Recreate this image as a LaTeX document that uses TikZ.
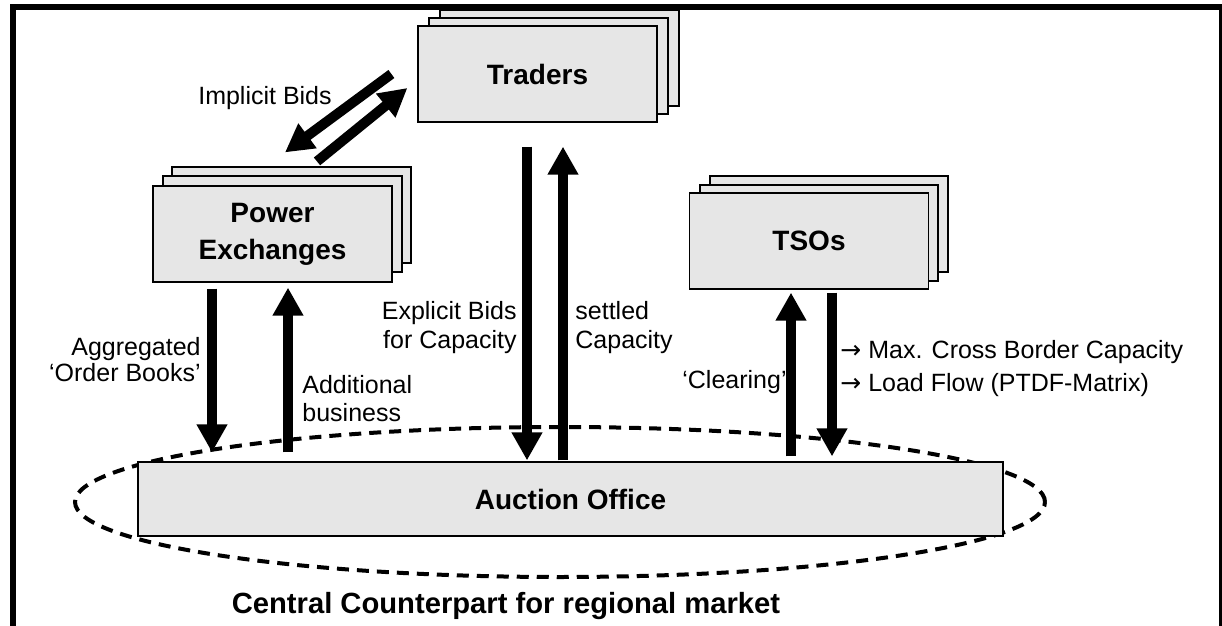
\documentclass[tikz,border=0pt]{standalone}
\usepackage{fontspec}
\setmainfont{Liberation Sans}
\newfontfamily\symfont{DejaVu Sans}
\usetikzlibrary{arrows.meta,calc}
\definecolor{boxgray}{HTML}{E6E6E6}
\newcommand{\rarr}{{\symfont →}}
\begin{document}
\begin{tikzpicture}[x=0.5pt,y=-0.5pt,
  card/.style={draw=black,line width=0.6pt,fill=boxgray},
  front/.style={card,minimum width=119.5pt,minimum height=48pt,inner sep=0pt,
    font=\fontsize{14}{18.5}\selectfont\bfseries,align=center},
  blockarrow/.style={line width=5pt,-{Triangle[length=14pt,width=14.5pt]}},
  lbl/.style={font=\fontsize{12.5}{14}\selectfont,inner sep=0pt},
  ring/.style={line width=2pt,dash pattern=on 6pt off 4pt}]
\useasboundingbox (0,0) rectangle (1222,626);

% outer frame (open at the bottom)
\draw[line width=3pt] (13,660) -- (13,7) -- (1222,7) -- (1222,660);

% Traders (stack of three cards)
\draw[card] (440,10) rectangle (679,106);
\draw[card] (429,18) rectangle (668,114);
\node[front] (traders) at (537.5,74) {Traders};

% Power exchanges
\draw[card] (172,167) rectangle (411,263);
\draw[card] (163,176) rectangle (402,272);
\node[front] (pe) at (272.5,234) {Power\\Exchanges};

% TSOs
\draw[card] (710,176) rectangle (948,272);
\draw[card] (700,185) rectangle (938,281);
\node[front] (tso) at (809,241) {TSOs};

% regional market boundary and auction office
\draw[ring] (560,502) ellipse [x radius=242.5pt,y radius=37.5pt];
\node[card,minimum width=432.5pt,minimum height=37pt,inner sep=0pt,
  font=\fontsize{14}{16}\selectfont\bfseries] (ao) at (570.5,499) {Auction Office};

% flows between the parties
\draw[blockarrow] ($(traders.west)+(-26,0)$) -- ($(pe.north)+(12.5,-33)$);
\draw[blockarrow] ($(pe.north)+(44.5,-24)$) -- ($(traders.west)+(-10,14)$);
\draw[blockarrow] ($(pe.south)+(-60.5,6)$) -- ($(ao.north)+(-358.5,-9)$);
\draw[blockarrow] ($(ao.north)+(-282.5,-9)$) -- ($(pe.south)+(15.5,5)$);
\draw[blockarrow] ($(traders.south)+(-10.5,24)$) -- ($(ao.north)+(-43.5,-1)$);
\draw[blockarrow] ($(ao.north)+(-7.5,-1)$) -- ($(traders.south)+(25.5,24)$);
\draw[blockarrow] ($(ao.north)+(220.5,-5)$) -- ($(tso.south)+(-18,3)$);
\draw[blockarrow] ($(tso.south)+(23,3)$) -- ($(ao.north)+(261.5,-5)$);

% flow labels
\node[lbl] (implicit) at (265,98) {Implicit Bids};
\node[lbl,anchor=east,align=right,font=\fontsize{12.5}{13}\selectfont] (aggr) at (201,360) {Aggregated\\‘Order Books’};
\node[lbl,anchor=west,align=left] (addl) at (302,399) {Additional\\business};
\node[lbl,anchor=east,align=right,font=\fontsize{12.5}{14.5}\selectfont] (expl) at (517,327.5) {Explicit Bids\\for Capacity};
\node[lbl,anchor=west,align=left,font=\fontsize{12.5}{14.5}\selectfont] (settled) at (575,327.5) {settled\\Capacity};
\node[lbl,anchor=east] (clearing) at (787,382) {‘Clearing’};
\node[lbl,anchor=west] (maxcap) at (840,352) {\rarr\ Max. Cross Border Capacity};
\node[lbl,anchor=west] (loadflow) at (840,385) {\rarr\ Load Flow (PTDF-Matrix)};

% caption of the market area
\node[font=\fontsize{14.6}{16}\selectfont\bfseries] (ccp) at (506,606) {Central Counterpart for regional market};
\end{tikzpicture}
\end{document}
